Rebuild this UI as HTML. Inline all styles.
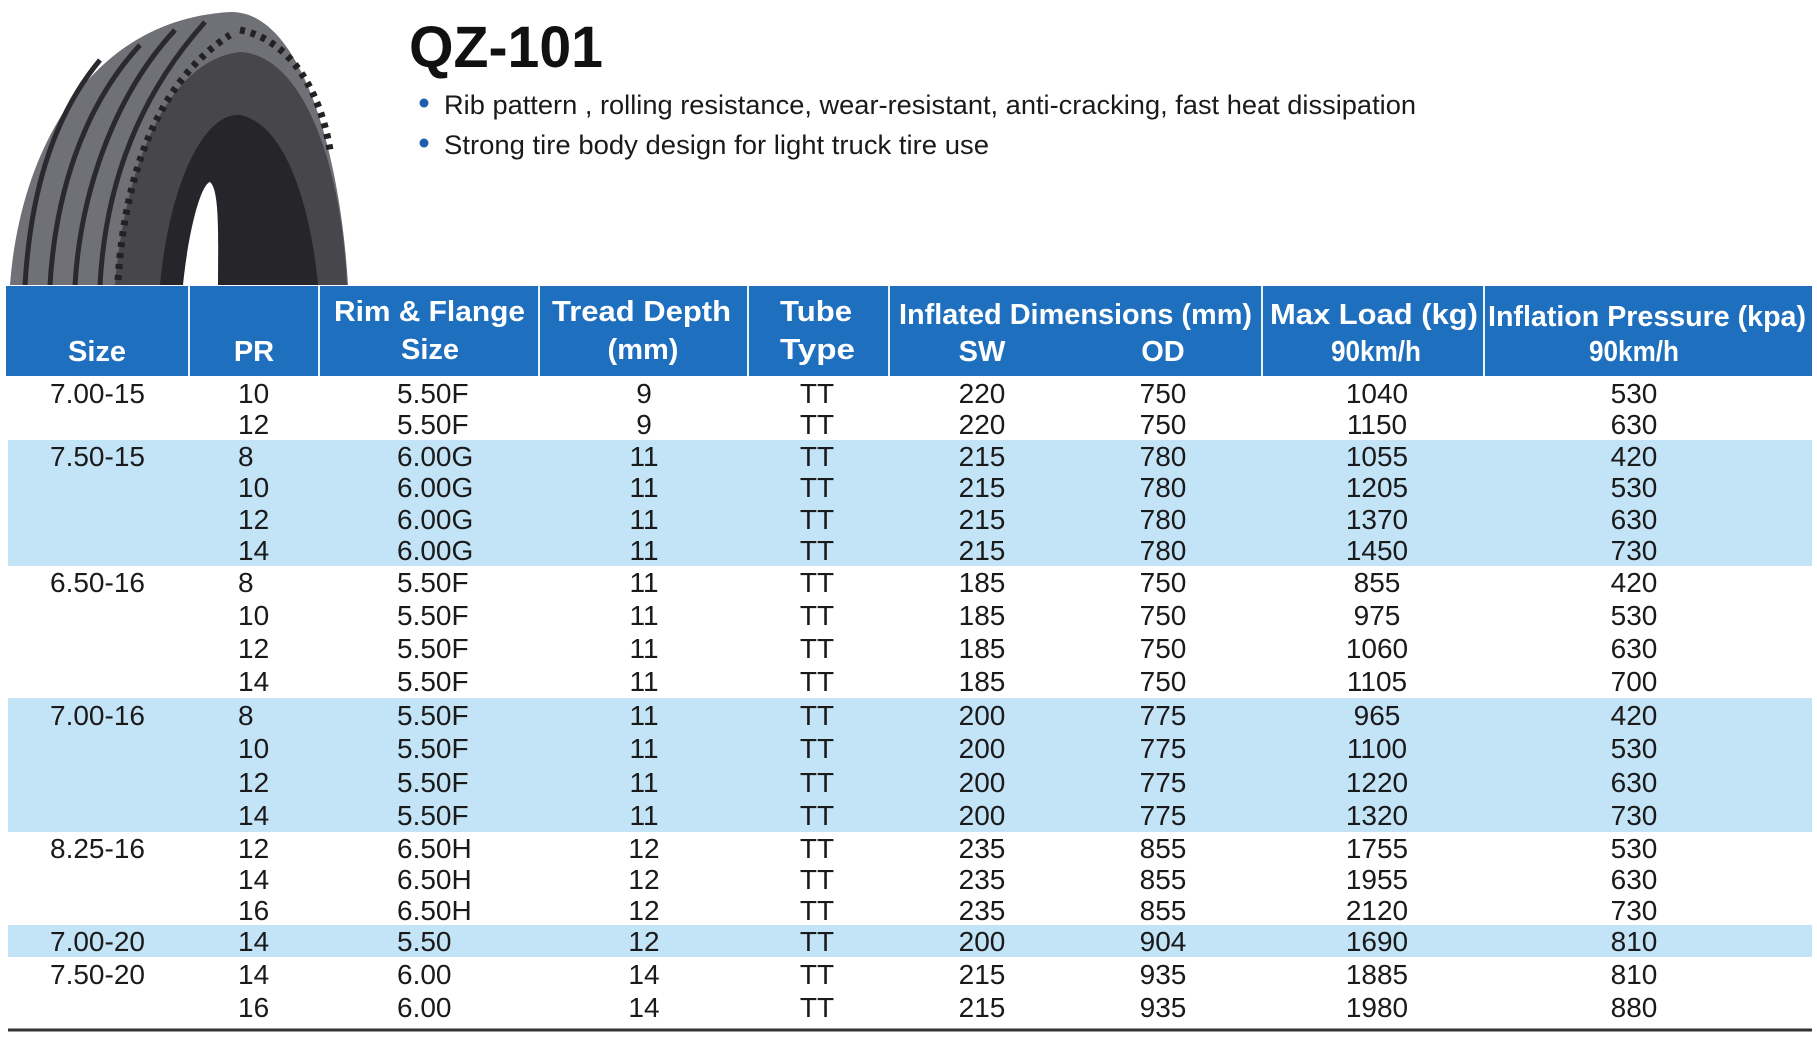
<!DOCTYPE html>
<html><head><meta charset="utf-8"><style>
html,body{margin:0;padding:0;background:#fff;}
svg{display:block;}
text{font-family:"Liberation Sans",Arial,sans-serif;}
.d{font-size:28px;fill:#1a1a1a;}
.h{font-size:29px;font-weight:bold;fill:#fff;}
</style></head><body>
<svg width="1817" height="1043" viewBox="0 0 1817 1043" xmlns="http://www.w3.org/2000/svg">
<rect width="1817" height="1043" fill="#fff"/>
<!-- tire -->
<path d="M10,285 C20,150 90,20 230,12 C300,10 340,150 348,285 Z" fill="#707077"/>
<path d="M115,285 C125,160 170,60 240,52 C305,55 342,170 347,285 Z" fill="#46464b"/>
<path d="M160,285 C170,180 205,112 240,115 C290,125 312,220 318,285 Z" fill="#26262a"/>
<path d="M183,285 C188,235 200,185 210,182 C220,190 218,240 218,285 Z" fill="#fff"/>
<g stroke="#2a2a2e" stroke-width="5" fill="none">
<path d="M25,285 C30,200 50,120 100,60"/>
<path d="M50,285 C55,200 80,110 140,45"/>
<path d="M75,285 C80,200 110,100 175,30"/>
<path d="M100,285 C105,190 135,100 205,22"/>
</g>
<g stroke="#222" stroke-width="7" stroke-dasharray="5 6" fill="none">
<path d="M118,280 C125,170 160,80 230,35"/>
<path d="M240,30 C290,40 320,90 330,150"/>
</g>
<!-- title -->
<text x="409" y="67" font-size="58" font-weight="bold" fill="#111" textLength="194" lengthAdjust="spacingAndGlyphs">QZ-101</text>
<circle cx="424" cy="103" r="4.5" fill="#1f5fb0"/>
<circle cx="424" cy="143" r="4.5" fill="#1f5fb0"/>
<text x="444" y="114" font-size="27" fill="#1a1a1a" textLength="972" lengthAdjust="spacingAndGlyphs">Rib pattern , rolling resistance, wear-resistant, anti-cracking, fast heat dissipation</text>
<text x="444" y="154" font-size="27" fill="#1a1a1a" textLength="545" lengthAdjust="spacingAndGlyphs">Strong tire body design for light truck tire use</text>
<!-- header -->
<rect x="6" y="286" width="1806" height="90" fill="#1f6fbf"/>
<g stroke="#e8f2fb" stroke-width="2">
<line x1="189" y1="286" x2="189" y2="376"/><line x1="319" y1="286" x2="319" y2="376"/>
<line x1="539" y1="286" x2="539" y2="376"/><line x1="748" y1="286" x2="748" y2="376"/>
<line x1="889" y1="286" x2="889" y2="376"/><line x1="1262" y1="286" x2="1262" y2="376"/>
<line x1="1484" y1="286" x2="1484" y2="376"/>
</g>
<g class="h">
<text x="97" y="361" text-anchor="middle">Size</text>
<text x="254" y="361" text-anchor="middle">PR</text>
<text x="334" y="321" textLength="191" lengthAdjust="spacingAndGlyphs">Rim &amp; Flange</text>
<text x="430" y="359" text-anchor="middle">Size</text>
<text x="552" y="321" textLength="179" lengthAdjust="spacingAndGlyphs">Tread Depth</text>
<text x="643" y="359" text-anchor="middle">(mm)</text>
<text x="780" y="321" textLength="72" lengthAdjust="spacingAndGlyphs">Tube</text>
<text x="780" y="359" textLength="75" lengthAdjust="spacingAndGlyphs">Type</text>
<text x="899" y="324" textLength="353" lengthAdjust="spacingAndGlyphs">Inflated Dimensions (mm)</text>
<text x="982" y="361" text-anchor="middle">SW</text>
<text x="1163" y="361" text-anchor="middle">OD</text>
<text x="1270" y="324" textLength="208" lengthAdjust="spacingAndGlyphs">Max Load (kg)</text>
<text x="1331" y="361" textLength="90" lengthAdjust="spacingAndGlyphs">90km/h</text>
<text x="1488" y="326" textLength="318" lengthAdjust="spacingAndGlyphs">Inflation Pressure (kpa)</text>
<text x="1589" y="361" textLength="90" lengthAdjust="spacingAndGlyphs">90km/h</text>
</g>
<!-- bands -->
<rect x="8" y="440" width="1804" height="126" fill="#c3e3f7"/>
<rect x="8" y="698" width="1804" height="134" fill="#c3e3f7"/>
<rect x="8" y="925" width="1804" height="32" fill="#c3e3f7"/>
<line x1="8" y1="1030" x2="1812" y2="1030" stroke="#333" stroke-width="3"/>
<!-- data -->
<g class="d">
<g transform="translate(0,403)"><text x="50">7.00-15</text><text x="238">10</text><text x="397">5.50F</text><text x="644" text-anchor="middle">9</text><text x="817" text-anchor="middle">TT</text><text x="982" text-anchor="middle">220</text><text x="1163" text-anchor="middle">750</text><text x="1377" text-anchor="middle">1040</text><text x="1634" text-anchor="middle">530</text></g>
<g transform="translate(0,434)"><text x="238">12</text><text x="397">5.50F</text><text x="644" text-anchor="middle">9</text><text x="817" text-anchor="middle">TT</text><text x="982" text-anchor="middle">220</text><text x="1163" text-anchor="middle">750</text><text x="1377" text-anchor="middle">1150</text><text x="1634" text-anchor="middle">630</text></g>
<g transform="translate(0,466)"><text x="50">7.50-15</text><text x="238">8</text><text x="397">6.00G</text><text x="644" text-anchor="middle">11</text><text x="817" text-anchor="middle">TT</text><text x="982" text-anchor="middle">215</text><text x="1163" text-anchor="middle">780</text><text x="1377" text-anchor="middle">1055</text><text x="1634" text-anchor="middle">420</text></g>
<g transform="translate(0,497)"><text x="238">10</text><text x="397">6.00G</text><text x="644" text-anchor="middle">11</text><text x="817" text-anchor="middle">TT</text><text x="982" text-anchor="middle">215</text><text x="1163" text-anchor="middle">780</text><text x="1377" text-anchor="middle">1205</text><text x="1634" text-anchor="middle">530</text></g>
<g transform="translate(0,529)"><text x="238">12</text><text x="397">6.00G</text><text x="644" text-anchor="middle">11</text><text x="817" text-anchor="middle">TT</text><text x="982" text-anchor="middle">215</text><text x="1163" text-anchor="middle">780</text><text x="1377" text-anchor="middle">1370</text><text x="1634" text-anchor="middle">630</text></g>
<g transform="translate(0,560)"><text x="238">14</text><text x="397">6.00G</text><text x="644" text-anchor="middle">11</text><text x="817" text-anchor="middle">TT</text><text x="982" text-anchor="middle">215</text><text x="1163" text-anchor="middle">780</text><text x="1377" text-anchor="middle">1450</text><text x="1634" text-anchor="middle">730</text></g>
<g transform="translate(0,592)"><text x="50">6.50-16</text><text x="238">8</text><text x="397">5.50F</text><text x="644" text-anchor="middle">11</text><text x="817" text-anchor="middle">TT</text><text x="982" text-anchor="middle">185</text><text x="1163" text-anchor="middle">750</text><text x="1377" text-anchor="middle">855</text><text x="1634" text-anchor="middle">420</text></g>
<g transform="translate(0,625)"><text x="238">10</text><text x="397">5.50F</text><text x="644" text-anchor="middle">11</text><text x="817" text-anchor="middle">TT</text><text x="982" text-anchor="middle">185</text><text x="1163" text-anchor="middle">750</text><text x="1377" text-anchor="middle">975</text><text x="1634" text-anchor="middle">530</text></g>
<g transform="translate(0,658)"><text x="238">12</text><text x="397">5.50F</text><text x="644" text-anchor="middle">11</text><text x="817" text-anchor="middle">TT</text><text x="982" text-anchor="middle">185</text><text x="1163" text-anchor="middle">750</text><text x="1377" text-anchor="middle">1060</text><text x="1634" text-anchor="middle">630</text></g>
<g transform="translate(0,691)"><text x="238">14</text><text x="397">5.50F</text><text x="644" text-anchor="middle">11</text><text x="817" text-anchor="middle">TT</text><text x="982" text-anchor="middle">185</text><text x="1163" text-anchor="middle">750</text><text x="1377" text-anchor="middle">1105</text><text x="1634" text-anchor="middle">700</text></g>
<g transform="translate(0,725)"><text x="50">7.00-16</text><text x="238">8</text><text x="397">5.50F</text><text x="644" text-anchor="middle">11</text><text x="817" text-anchor="middle">TT</text><text x="982" text-anchor="middle">200</text><text x="1163" text-anchor="middle">775</text><text x="1377" text-anchor="middle">965</text><text x="1634" text-anchor="middle">420</text></g>
<g transform="translate(0,758)"><text x="238">10</text><text x="397">5.50F</text><text x="644" text-anchor="middle">11</text><text x="817" text-anchor="middle">TT</text><text x="982" text-anchor="middle">200</text><text x="1163" text-anchor="middle">775</text><text x="1377" text-anchor="middle">1100</text><text x="1634" text-anchor="middle">530</text></g>
<g transform="translate(0,792)"><text x="238">12</text><text x="397">5.50F</text><text x="644" text-anchor="middle">11</text><text x="817" text-anchor="middle">TT</text><text x="982" text-anchor="middle">200</text><text x="1163" text-anchor="middle">775</text><text x="1377" text-anchor="middle">1220</text><text x="1634" text-anchor="middle">630</text></g>
<g transform="translate(0,825)"><text x="238">14</text><text x="397">5.50F</text><text x="644" text-anchor="middle">11</text><text x="817" text-anchor="middle">TT</text><text x="982" text-anchor="middle">200</text><text x="1163" text-anchor="middle">775</text><text x="1377" text-anchor="middle">1320</text><text x="1634" text-anchor="middle">730</text></g>
<g transform="translate(0,858)"><text x="50">8.25-16</text><text x="238">12</text><text x="397">6.50H</text><text x="644" text-anchor="middle">12</text><text x="817" text-anchor="middle">TT</text><text x="982" text-anchor="middle">235</text><text x="1163" text-anchor="middle">855</text><text x="1377" text-anchor="middle">1755</text><text x="1634" text-anchor="middle">530</text></g>
<g transform="translate(0,889)"><text x="238">14</text><text x="397">6.50H</text><text x="644" text-anchor="middle">12</text><text x="817" text-anchor="middle">TT</text><text x="982" text-anchor="middle">235</text><text x="1163" text-anchor="middle">855</text><text x="1377" text-anchor="middle">1955</text><text x="1634" text-anchor="middle">630</text></g>
<g transform="translate(0,920)"><text x="238">16</text><text x="397">6.50H</text><text x="644" text-anchor="middle">12</text><text x="817" text-anchor="middle">TT</text><text x="982" text-anchor="middle">235</text><text x="1163" text-anchor="middle">855</text><text x="1377" text-anchor="middle">2120</text><text x="1634" text-anchor="middle">730</text></g>
<g transform="translate(0,951)"><text x="50">7.00-20</text><text x="238">14</text><text x="397">5.50</text><text x="644" text-anchor="middle">12</text><text x="817" text-anchor="middle">TT</text><text x="982" text-anchor="middle">200</text><text x="1163" text-anchor="middle">904</text><text x="1377" text-anchor="middle">1690</text><text x="1634" text-anchor="middle">810</text></g>
<g transform="translate(0,984)"><text x="50">7.50-20</text><text x="238">14</text><text x="397">6.00</text><text x="644" text-anchor="middle">14</text><text x="817" text-anchor="middle">TT</text><text x="982" text-anchor="middle">215</text><text x="1163" text-anchor="middle">935</text><text x="1377" text-anchor="middle">1885</text><text x="1634" text-anchor="middle">810</text></g>
<g transform="translate(0,1017)"><text x="238">16</text><text x="397">6.00</text><text x="644" text-anchor="middle">14</text><text x="817" text-anchor="middle">TT</text><text x="982" text-anchor="middle">215</text><text x="1163" text-anchor="middle">935</text><text x="1377" text-anchor="middle">1980</text><text x="1634" text-anchor="middle">880</text></g>
</g>
</svg>
</body></html>
